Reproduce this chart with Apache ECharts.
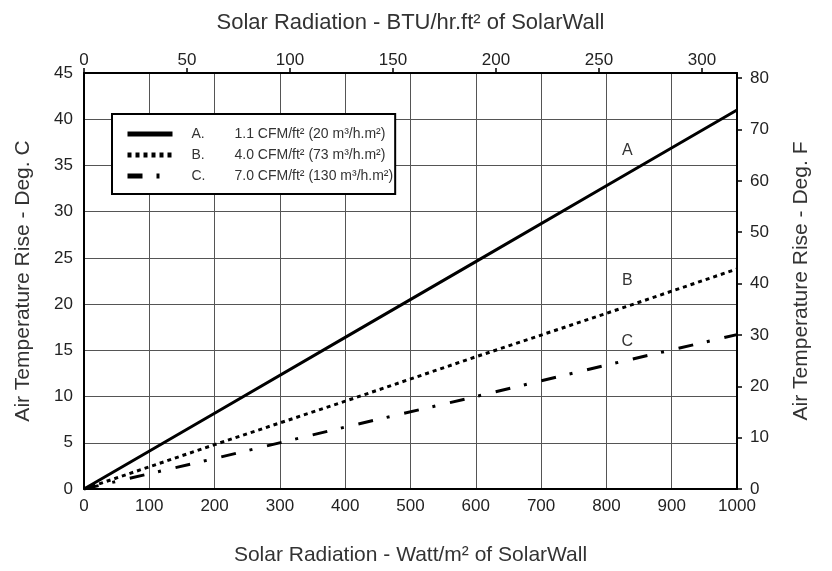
<!DOCTYPE html>
<html lang="en">

<head>
    <meta charset="UTF-8">
    <title>Solar Radiation vs Air Temperature Rise</title>
    <script src="https://cdn.jsdelivr.net/npm/echarts@6/dist/echarts.min.js"></script>
    <style>
        html, body {
            margin: 0;
            padding: 0;
            background: #fff;
        }

        #chart {
            width: 832px;
            height: 571px;
        }
    </style>
</head>

<body>
    <div id="chart"></div>
    <script>
        // 数据
        const wattsX = [0, 200, 400, 600, 800, 1000];
        const riseA = [0, 8.2, 16.4, 24.6, 32.8, 41.0];
        const riseB = [0, 4.8, 9.5, 14.3, 19.0, 23.8];
        const riseC = [0, 3.3, 6.7, 10.0, 13.4, 16.7];
        const curveNames = ['A', 'B', 'C'];
        const flowKeys = ['A.', 'B.', 'C.'];
        const flowText = ['1.1 CFM/ft² (20 m³/h.m²)', '4.0 CFM/ft² (73 m³/h.m²)', '7.0 CFM/ft² (130 m³/h.m²)'];

        const font = 'Liberation Sans, Arial, sans-serif';
        const labelIndex = 4;
        const labelOffsets = [[21, -22], [21, -20], [21, -11]];
        const dashes = ['solid', [4, 4], [15, 14, 3, 15]];

        function buildSeries(vals, i) {
            let data = wattsX.map(function (x, k) {
                if (k === labelIndex) {
                    return {
                        value: [x, vals[k]],
                        label: {
                            show: true,
                            position: 'top',
                            formatter: curveNames[i],
                            offset: labelOffsets[i],
                            fontFamily: font,
                            fontSize: 16,
                            color: '#333'
                        }
                    };
                }
                return [x, vals[k]];
            });
            return {
                name: flowKeys[i] + ' ' + flowText[i],
                type: 'line',
                xAxisIndex: 0,
                yAxisIndex: 0,
                data: data,
                symbol: 'circle',
                symbolSize: 0,
                showSymbol: true,
                silent: true,
                animation: false,
                lineStyle: { color: '#000', width: 3, type: dashes[i] },
                itemStyle: { color: '#000' }
            };
        }

        var myChart = echarts.init(document.getElementById('chart'));
        var axisName = { fontFamily: font, fontSize: 21, color: '#333' };
        var tickLabel = { fontFamily: font, fontSize: 17, color: '#222', formatter: function (v) { return String(v); } };
        var frameLine = { show: true, onZero: false, lineStyle: { color: '#000', width: 2 } };
        var option = {
            animation: false,
            grid: { left: 84, right: 95, top: 73, bottom: 72 },
            legend: {
                orient: 'vertical',
                left: 112,
                top: 114,
                padding: [13, 2, 11, 13],
                itemWidth: 45,
                itemHeight: 14,
                itemGap: 7,
                backgroundColor: '#fff',
                borderColor: '#000',
                borderWidth: 2,
                borderRadius: 0,
                itemStyle: { opacity: 0 },
                lineStyle: { width: 5 },
                selectedMode: false,
                textStyle: {
                    fontFamily: font,
                    fontSize: 14,
                    color: '#333',
                    rich: {
                        k: { width: 43, padding: [0, 0, 0, 14], fontFamily: font, fontSize: 14, color: '#333' }
                    }
                },
                formatter: function (name) {
                    let i = flowKeys.indexOf(name.slice(0, 2));
                    return '{k|' + flowKeys[i] + '}' + flowText[i];
                }
            },
            xAxis: [
                {
                    type: 'value',
                    position: 'bottom',
                    min: 0,
                    max: 1000,
                    interval: 100,
                    name: 'Solar Radiation - Watt/m² of SolarWall',
                    nameLocation: 'middle',
                    nameGap: 56,
                    nameTextStyle: axisName,
                    axisLine: frameLine,
                    axisTick: { show: false },
                    axisLabel: Object.assign({}, tickLabel, { margin: 9 }),
                    splitLine: { show: true, lineStyle: { color: '#555', width: 1 } }
                },
                {
                    type: 'value',
                    position: 'top',
                    min: 0,
                    max: 1000 / 3.1546,
                    interval: 50,
                    name: 'Solar Radiation - BTU/hr.ft² of SolarWall',
                    nameLocation: 'middle',
                    nameGap: 39,
                    nameTextStyle: Object.assign({}, axisName, { fontSize: 22 }),
                    axisLine: frameLine,
                    axisTick: { show: true, length: 5, lineStyle: { color: '#000', width: 1.5 } },
                    axisLabel: Object.assign({}, tickLabel, { margin: 4, showMaxLabel: false }),
                    splitLine: { show: false }
                }
            ],
            yAxis: [
                {
                    type: 'value',
                    position: 'left',
                    min: 0,
                    max: 45,
                    interval: 5,
                    name: 'Air Temperature Rise - Deg. C',
                    nameLocation: 'middle',
                    nameGap: 50,
                    nameTextStyle: axisName,
                    axisLine: frameLine,
                    axisTick: { show: false },
                    axisLabel: Object.assign({}, tickLabel, { margin: 11 }),
                    splitLine: { show: true, lineStyle: { color: '#555', width: 1 } }
                },
                {
                    type: 'value',
                    position: 'right',
                    min: 0,
                    max: 81,
                    interval: 10,
                    name: 'Air Temperature Rise - Deg. F',
                    nameLocation: 'middle',
                    nameGap: 54,
                    nameTextStyle: axisName,
                    axisLine: frameLine,
                    axisTick: { show: true, length: 5, lineStyle: { color: '#000', width: 1.5 } },
                    axisLabel: Object.assign({}, tickLabel, { margin: 13, showMaxLabel: false }),
                    splitLine: { show: false }
                }
            ],
            series: [riseA, riseB, riseC].map(buildSeries)
        };
        myChart.setOption(option);
    </script>
</body>

</html>
